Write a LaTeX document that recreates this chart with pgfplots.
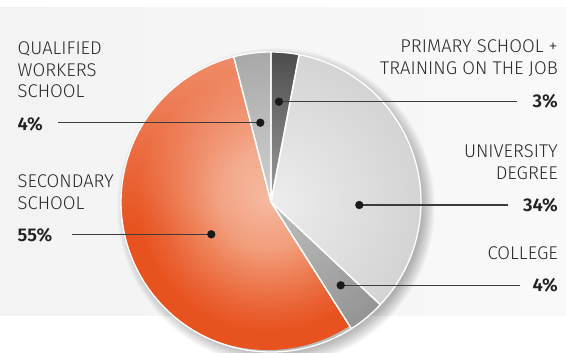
\documentclass[border=0pt]{standalone}
\usepackage{pgfplots}
\pgfplotsset{compat=1.18}
\usepackage{pgfplotstable}
\usetikzlibrary{fadings}
\usepackage{fontspec}
\setmainfont{Fira Sans}[UprightFont=* Light, BoldFont=* SemiBold]
\definecolor{txt}{HTML}{2A2A2A}
\definecolor{txtb}{HTML}{222222}
\definecolor{dotc}{HTML}{1A1A1A}
\definecolor{lnc}{HTML}{3C3C3C}
\definecolor{bgl}{HTML}{F3F3F3}
\definecolor{bgm}{HTML}{E0E0E0}
\definecolor{bgr}{HTML}{F9F9F9}
\definecolor{or0}{HTML}{F6B59B}
\definecolor{or1}{HTML}{F29F7D}
\definecolor{or2}{HTML}{EE8057}
\definecolor{or3}{HTML}{EA6436}
\definecolor{or4}{HTML}{E8521E}
\pgfdeclareradialshading{orangeglow}{\pgfpoint{0bp}{0bp}}{color(0bp)=(or0); color(8bp)=(or1); color(13bp)=(or2); color(18bp)=(or3); color(22bp)=(or4); color(50bp)=(or4)}

\pgfplotstableread{
label value
primary 3
university 34
college 4
secondary 55
qualified 4
}\piedata
\pgfplotstablegetelem{0}{value}\of\piedata \edef\vA{\pgfplotsretval}
\pgfplotstablegetelem{1}{value}\of\piedata \edef\vB{\pgfplotsretval}
\pgfplotstablegetelem{2}{value}\of\piedata \edef\vC{\pgfplotsretval}
\pgfplotstablegetelem{3}{value}\of\piedata \edef\vD{\pgfplotsretval}
\pgfplotstablegetelem{4}{value}\of\piedata \edef\vE{\pgfplotsretval}
\pgfmathsetmacro\aA{90}
\pgfmathsetmacro\aB{\aA-3.6*\vA}
\pgfmathsetmacro\aC{\aB-3.6*\vB}
\pgfmathsetmacro\aD{\aC-3.6*\vC}
\pgfmathsetmacro\aE{\aD-3.6*\vD}
\pgfmathsetmacro\aF{\aE-3.6*\vE}
\newcommand\slicepath[2]{(axis cs:271,151) -- ++(#1:150bp) arc[start angle=#1, end angle=#2, radius=150bp] -- cycle}
\newcommand\reg{\fontsize{18.5}{22}\selectfont\color{txt}}
\newcommand\bld{\fontsize{18.5}{22}\selectfont\bfseries\color{txtb}}

\begin{document}
\begin{tikzpicture}
\begin{axis}[
  scale only axis, width=566bp, height=353bp,
  xmin=0, xmax=566, ymin=0, ymax=353,
  enlargelimits=false, hide axis, clip=true]
% background
\shade[left color=bgl, middle color=bgm, right color=bgr] (axis cs:0,37) rectangle (axis cs:566,345);
% shadow
\pgfplotsinvokeforeach{0,...,9}{
  \fill[black, opacity=0.03] (axis cs:276,146) circle[radius=146bp+1.4bp*#1];
}
% slices
\begin{scope}\clip \slicepath{\aA}{\aB};
  \shade[inner color=black!38, outer color=black!70] (axis cs:271,151) circle[radius=150bp];
\end{scope}
\begin{scope}\clip \slicepath{\aB}{\aC};
  \shade[inner color=black!7, outer color=black!17] (axis cs:271,151) circle[radius=150bp];
\end{scope}
\begin{scope}\clip \slicepath{\aC}{\aD};
  \shade[inner color=black!25, outer color=black!42] (axis cs:271,151) circle[radius=150bp];
\end{scope}
\begin{scope}\clip \slicepath{\aD}{\aE};
  \shade[shading=orangeglow] (axis cs:268,153) circle[radius=150bp];
  \fill[white, path fading=south, fill opacity=0.35] (axis cs:100,123) rectangle (axis cs:300,303);
\end{scope}
\begin{scope}\clip \slicepath{\aE}{\aF};
  \shade[inner color=black!18, outer color=black!34] (axis cs:271,151) circle[radius=150bp];
\end{scope}
\draw[white, line width=1.3bp, line join=round] \slicepath{\aA}{\aB};
\draw[white, line width=1.3bp, line join=round] \slicepath{\aB}{\aC};
\draw[white, line width=1.3bp, line join=round] \slicepath{\aC}{\aD};
\draw[white, line width=1.3bp, line join=round] \slicepath{\aD}{\aE};
\draw[white, line width=1.3bp, line join=round] \slicepath{\aE}{\aF};
% leader lines
\addplot[lnc, line width=1.1bp] coordinates {(58,230.3) (260.3,230.3)};
\addplot[lnc, line width=1.1bp] coordinates {(72,118.7) (211.3,118.7)};
\addplot[lnc, line width=1.1bp] coordinates {(279,251.3) (517,251.3)};
\addplot[lnc, line width=1.1bp] coordinates {(359.3,148) (508,148)};
\addplot[lnc, line width=1.1bp] coordinates {(340.7,67.7) (520,67.7)};
\addplot[only marks, mark=*, mark size=3.9bp, color=dotc] coordinates {
(260.3,230.3) (211.3,118.7) (279,251.3) (359.3,148) (340.7,67.7)};
% labels left
\node[anchor=base west, inner sep=0pt, font=\reg] at (axis cs:17.5,298) {QUALIFIED};
\node[anchor=base west, inner sep=0pt, font=\reg] at (axis cs:17.5,276) {WORKERS};
\node[anchor=base west, inner sep=0pt, font=\reg] at (axis cs:17.5,255) {SCHOOL};
\node[anchor=base west, inner sep=0pt, font=\bld] at (axis cs:17.5,222) {4\%};
\node[anchor=base west, inner sep=0pt, font=\reg] at (axis cs:17.5,165) {SECONDARY};
\node[anchor=base west, inner sep=0pt, font=\reg] at (axis cs:17.5,143) {SCHOOL};
\node[anchor=base west, inner sep=0pt, font=\bld] at (axis cs:17.5,111) {55\%};
% labels right
\node[anchor=base east, inner sep=0pt, font=\reg] at (axis cs:558,300) {PRIMARY SCHOOL +};
\node[anchor=base east, inner sep=0pt, font=\reg] at (axis cs:558,278) {TRAINING ON THE JOB};
\node[anchor=base east, inner sep=0pt, font=\bld] at (axis cs:558,245) {3\%};
\node[anchor=base east, inner sep=0pt, font=\reg] at (axis cs:558,195) {UNIVERSITY};
\node[anchor=base east, inner sep=0pt, font=\reg] at (axis cs:558,173) {DEGREE};
\node[anchor=base east, inner sep=0pt, font=\bld] at (axis cs:558,141) {34\%};
\node[anchor=base east, inner sep=0pt, font=\reg] at (axis cs:558,93) {COLLEGE};
\node[anchor=base east, inner sep=0pt, font=\bld] at (axis cs:558,61) {4\%};
\end{axis}
\pgfresetboundingbox
\useasboundingbox (current axis.south west) rectangle (current axis.north east);
\end{tikzpicture}
\end{document}
